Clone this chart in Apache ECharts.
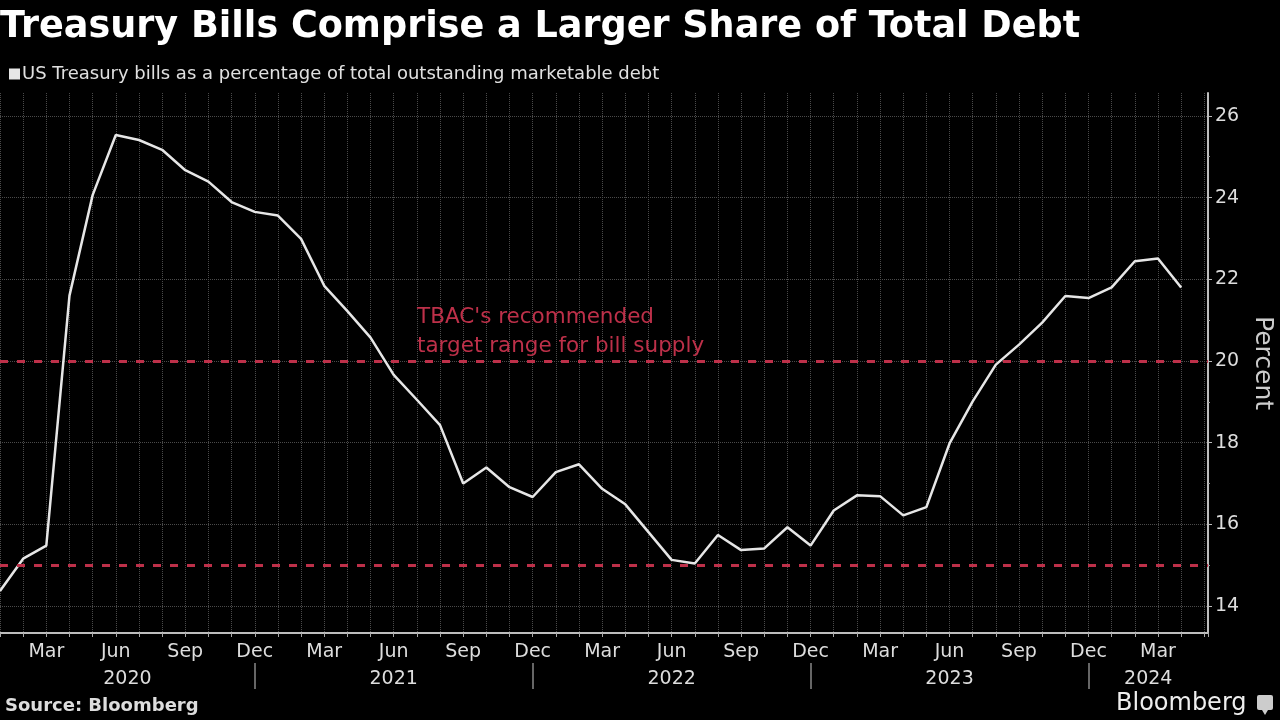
<!DOCTYPE html>
<html>
<head>
<meta charset="utf-8">
<script src="https://cdn.jsdelivr.net/npm/echarts@6/dist/echarts.min.js"></script>
<style>
html,body{margin:0;padding:0;background:#000;}
#chart{width:1280px;height:720px;}
</style>
</head>
<body>
<div id="chart"></div>
<script>
// ---- data ----
const months = [
 'Jan 2020','Feb 2020','Mar 2020','Apr 2020','May 2020','Jun 2020','Jul 2020','Aug 2020','Sep 2020','Oct 2020','Nov 2020','Dec 2020',
 'Jan 2021','Feb 2021','Mar 2021','Apr 2021','May 2021','Jun 2021','Jul 2021','Aug 2021','Sep 2021','Oct 2021','Nov 2021','Dec 2021',
 'Jan 2022','Feb 2022','Mar 2022','Apr 2022','May 2022','Jun 2022','Jul 2022','Aug 2022','Sep 2022','Oct 2022','Nov 2022','Dec 2022',
 'Jan 2023','Feb 2023','Mar 2023','Apr 2023','May 2023','Jun 2023','Jul 2023','Aug 2023','Sep 2023','Oct 2023','Nov 2023','Dec 2023',
 'Jan 2024','Feb 2024','Mar 2024','Apr 2024','May 2024'
];
const billShare = [
 14.37,15.16,15.48,21.60,24.06,25.53,25.41,25.17,24.67,24.39,23.89,23.65,
 23.56,22.99,21.84,21.22,20.57,19.66,19.05,18.43,17.00,17.39,16.91,16.67,
 17.28,17.47,16.87,16.49,15.81,15.13,15.04,15.74,15.37,15.41,15.93,15.48,
 16.34,16.71,16.69,16.22,16.42,17.98,19.01,19.91,20.40,20.94,21.59,21.54,
 21.80,22.44,22.51,21.80
];
const targetRange = [20, 15];
const yMajorTicks = [14, 16, 18, 20, 22, 24, 26];
const yMinorTicks = [15, 17, 19, 21, 23, 25];
const monthLabels = ['Mar', 'Jun', 'Sep', 'Dec'];
const seriesName = 'US Treasury bills as a percentage of total outstanding marketable debt';

// ---- derived ----
const X_MIN = 0, X_MAX = 52.16, Y_MIN = 13.34, Y_MAX = 26.56;
const lineData = billShare.map((v, i) => [i, v]);
const decIdx = months.map((m, i) => m.startsWith('Dec') ? i : -1).filter(i => i >= 0);
const years = [...new Set(months.map(m => m.split(' ')[1]))];
const bounds = [X_MIN, ...decIdx, X_MAX];
const yearCenters = years.map((y, k) => (bounds[k] + bounds[k + 1]) / 2);

const FONT = "'DejaVu Sans', sans-serif";
const RED = '#bd3049';

const chart = echarts.init(document.getElementById('chart'), null, {renderer: 'canvas'});
chart.setOption({
  backgroundColor: '#000',
  animation: false,
  title: [
    {text: 'Treasury Bills Comprise a Larger Share of Total Debt', left: 0, top: 9, padding: 0,
     textStyle: {color: '#fff', fontSize: 36.6, fontWeight: 'bold', fontFamily: FONT}},
    {text: "TBAC's recommended\ntarget range for bill supply", left: 417, top: 303, padding: 0,
     textStyle: {color: RED, fontSize: 21.5, fontWeight: 'normal', lineHeight: 29, fontFamily: FONT}},
    {text: 'Source: Bloomberg', left: 5, top: 697, padding: 0,
     textStyle: {color: '#ddd', fontSize: 18, fontWeight: 'bold', fontFamily: FONT}},
    {text: 'Bloomberg', left: 1116, top: 692, padding: 0,
     textStyle: {color: '#eee', fontSize: 24, fontWeight: 'normal', fontFamily: FONT}}
  ],
  legend: {
    data: [seriesName], left: 9, top: 65, padding: 0, icon: 'rect', itemWidth: 11, itemHeight: 11, itemGap: 3,
    textStyle: {color: '#e0e0e0', fontSize: 18, fontFamily: FONT, padding: [0, 0, 0, -3]}
  },
  grid: {left: 0, right: 72, top: 93, bottom: 87, containLabel: false, outerBoundsMode: 'none'},
  xAxis: [
    {type: 'value', min: X_MIN, max: X_MAX, interval: 1, position: 'bottom',
     axisLine: {show: true, onZero: false, lineStyle: {color: '#bdbdbd', width: 2}},
     axisTick: {show: true, length: 4, lineStyle: {color: '#aaa'}},
     axisLabel: {color: '#ddd', fontSize: 19, fontFamily: FONT, margin: 10,
       formatter: v => {
         if (Math.abs(v - Math.round(v)) > 1e-6) return '';
         const m = months[Math.round(v)];
         if (!m) return '';
         const name = m.split(' ')[0];
         return monthLabels.includes(name) ? name : '';
       }},
     splitLine: {show: true, lineStyle: {color: '#4a4a4a', type: 'dotted', width: 1}}},
    {type: 'value', min: X_MIN, max: X_MAX, position: 'bottom', offset: 30,
     axisLine: {show: false, onZero: false},
     axisTick: {show: true, customValues: decIdx, length: 26, lineStyle: {color: '#888', width: 1.5}},
     axisLabel: {customValues: yearCenters, color: '#ddd', fontSize: 19, fontFamily: FONT, margin: 7,
       formatter: v => {
         const k = yearCenters.findIndex(c => Math.abs(c - v) < 1e-6);
         return k >= 0 ? years[k] : '';
       }},
     splitLine: {show: false}}
  ],
  yAxis: [
    {type: 'value', min: Y_MIN, max: Y_MAX, position: 'right',
     name: 'Percent', nameLocation: 'middle', nameRotate: -90, nameGap: 42,
     nameTextStyle: {color: '#ccc', fontSize: 25, fontFamily: FONT},
     axisLine: {show: true, onZero: false, lineStyle: {color: '#bdbdbd', width: 2}},
     axisTick: {show: true, customValues: yMajorTicks, length: 4, lineStyle: {color: '#bbb'}},
     axisLabel: {customValues: yMajorTicks, color: '#ddd', fontSize: 19, fontFamily: FONT, margin: 7},
     splitLine: {show: true, lineStyle: {color: '#4a4a4a', type: 'dotted', width: 1}}},
    {type: 'value', min: Y_MIN, max: Y_MAX, position: 'right',
     axisLine: {show: false, onZero: false},
     axisTick: {show: true, customValues: yMinorTicks, length: 2, lineStyle: {color: '#999'}},
     axisLabel: {show: false},
     splitLine: {show: false}}
  ],
  series: [{
    name: seriesName, type: 'line', xAxisIndex: 0, yAxisIndex: 0,
    data: lineData, showSymbol: false, symbol: 'none',
    itemStyle: {color: '#e6e6e6'},
    lineStyle: {color: '#e6e6e6', width: 2.5},
    markLine: {
      silent: true, symbol: ['none', 'none'], label: {show: false},
      lineStyle: {color: RED, type: [8, 9], width: 3},
      data: targetRange.map(v => ({yAxis: v}))
    }
  }],
  graphic: [
    {type: 'rect', shape: {x: 1257, y: 695, width: 16, height: 15, r: 2}, style: {fill: '#ccc'}},
    {type: 'polygon', shape: {points: [[1262, 710], [1268, 710], [1265, 715]]}, style: {fill: '#ccc'}}
  ]
});
</script>
</body>
</html>
